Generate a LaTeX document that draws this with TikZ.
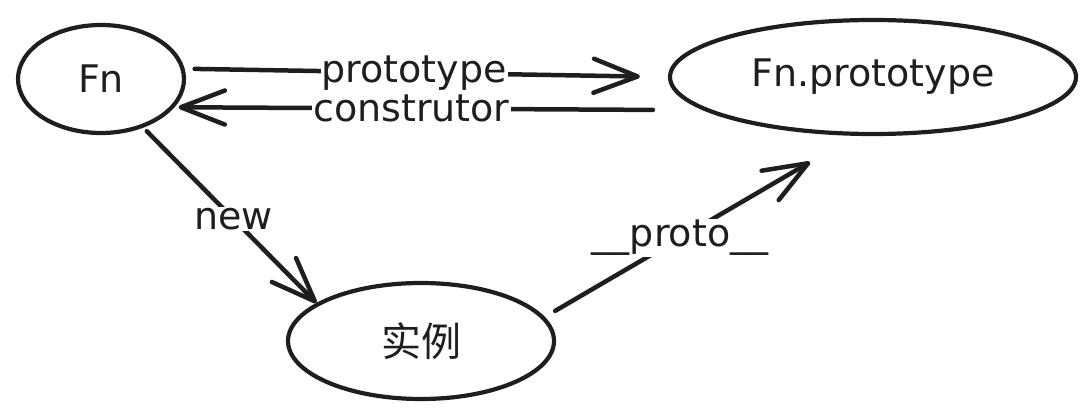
\documentclass[tikz,border=0pt]{standalone}
\usepackage{fontspec}
\setmainfont{DejaVu Sans}
\newfontfamily\cjk{Noto Sans CJK SC}
\usetikzlibrary{shapes.geometric,arrows.meta}
\definecolor{ink}{HTML}{1E1E1E}
\tikzset{
  blob/.style={ellipse, draw=ink, line width=4.2pt, inner sep=0pt, text=ink,
    font=\fontsize{38}{40}\selectfont},
  arr/.style={draw=ink, line width=4.5pt, line cap=round,
    -{Straight Barb[length=44pt,width=34pt,round]}},
  lbl/.style={fill=white, inner sep=1pt, text=ink, font=\fontsize{38}{40}\selectfont},
}
\begin{document}
\begin{tikzpicture}[x=1pt,y=-1pt]
\useasboundingbox (0,0) rectangle (1086,417);
\node[blob, minimum width=166pt, minimum height=108pt] (fn) at (101,79) {Fn};
\node[blob, minimum width=406pt, minimum height=114pt] (fp) at (873,77) {Fn.prototype};
\node[blob, minimum width=266pt, minimum height=116pt, font=\cjk\fontsize{40}{44}\selectfont] (inst) at (421,341) {实例};

\draw[arr, shorten <=15pt, shorten >=4pt] ([yshift=-33pt]fp.west) -- node[lbl, pos=0.52] (lc) {construtor} (fn.-21);
\draw[arr, shorten <=10pt, shorten >=28pt] (fn.7.5) -- node[lbl, pos=0.475] (lp) {prototype} (fp.west);
\draw[arr, shorten <=5pt] (fn.-49) -- node[lbl, pos=0.52] (ln) {new} (inst.160);
\draw[arr, shorten <=12pt, shorten >=52pt] (inst.11.8) -- node[lbl, pos=0.436] (lpr) {\_\_proto\_\_} (fp.-107.5);
\end{tikzpicture}
\end{document}
